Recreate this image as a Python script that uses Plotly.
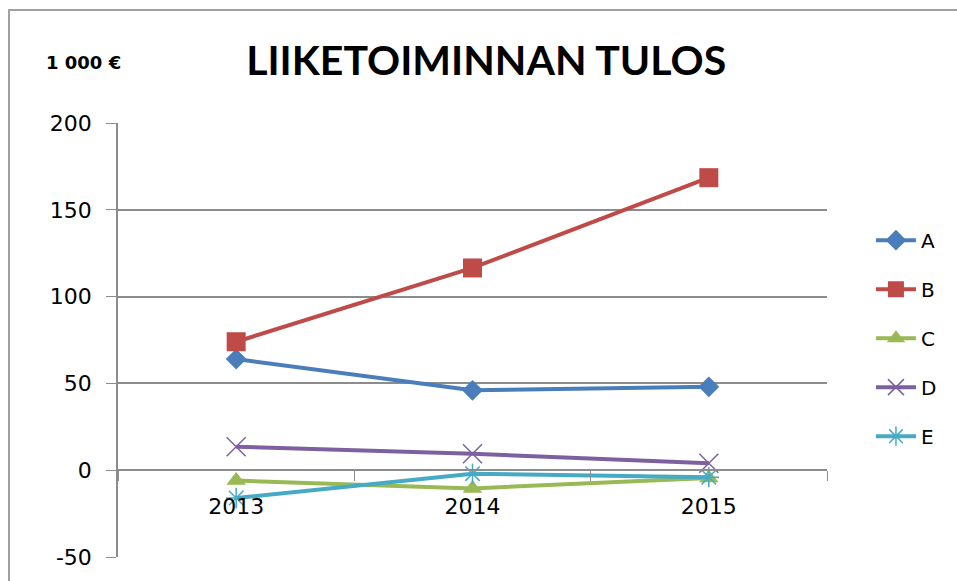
import plotly.graph_objects as go

years = ["2013", "2014", "2015"]
series_names = ["A", "B", "C", "D", "E"]
values_A = [64, 46, 48]
values_B = [74, 116.5, 168.5]
values_C = [-6, -10.5, -4.5]
values_D = [13.5, 9.5, 4]
values_E = [-16, -2, -4]
y_ticks = [-50, 0, 50, 100, 150, 200]
y_tick_labels = ["-50", "0", "50", "100", "150", "200"]

colors = ["#4A7EBB", "#BE4B48", "#98B954", "#7D60A0", "#46AAC5"]
symbols = ["diamond", "square", "triangle-up", "x-thin", "asterisk"]
sizes = [16, 19, 17, 19, 17]

all_values = [values_A, values_B, values_C, values_D, values_E]

fig = go.Figure()
for name, vals, col, sym, sz in zip(series_names, all_values, colors, symbols, sizes):
    marker = dict(symbol=sym, size=sz, color=col)
    if sym in ("x-thin", "asterisk"):
        marker["line"] = dict(color=col, width=1.5)
    fig.add_trace(go.Scatter(
        x=years, y=vals, name=name, mode="lines+markers",
        line=dict(color=col, width=4), marker=marker,
        legendgroup=name,
    ))

tick_font = dict(family="DejaVu Sans", size=22, color="#000000")
grid_col = "#8C8C8C"

fig.update_layout(
    width=957, height=581,
    margin=dict(l=118, r=130, t=123, b=24),
    paper_bgcolor="white", plot_bgcolor="white",
    title=dict(text="<b>LIIKETOIMINNAN TULOS</b>", x=0.508, xanchor="center",
               y=1 - 61 / 581, yanchor="middle",
               font=dict(family="Lato, DejaVu Sans", size=41, color="#000000")),
    xaxis=dict(type="category", range=[-0.5, 2.5], anchor="free", position=0.2,
               showline=True, linecolor=grid_col, linewidth=1.5,
               ticks="outside", tickson="boundaries", ticklen=10, tickcolor=grid_col,
               ticklabelstandoff=17, showgrid=False, tickfont=tick_font,
               automargin=False),
    yaxis=dict(range=[-50, 200], tickvals=y_ticks, ticktext=y_tick_labels,
               showline=True, linecolor=grid_col,
               linewidth=1.5, ticks="outside", ticklen=10, tickcolor=grid_col,
               showgrid=True, gridcolor=grid_col, gridwidth=1.5, zeroline=False,
               ticklabelstandoff=10, tickfont=tick_font, automargin=False),
    legend=dict(x=1.062, xanchor="left", y=0.775, yanchor="top",
                font=dict(family="DejaVu Sans", size=20, color="#000000"),
                tracegroupgap=20, itemwidth=40, bgcolor="rgba(0,0,0,0)"),
    showlegend=True,
    annotations=[dict(text="<b>1 000 €</b>", xref="paper", yref="paper",
                      x=(44 - 118) / 709, xanchor="left",
                      y=1 + (123 - 62) / 434, yanchor="middle", showarrow=False,
                      font=dict(family="DejaVu Sans", size=18, color="#000000"))],
    shapes=[dict(type="rect", xref="paper", yref="paper",
                 x0=-109 / 709, x1=1.5, y0=-0.5, y1=1 + 113 / 434,
                 line=dict(color="#A0A0A0", width=2), fillcolor="rgba(0,0,0,0)",
                 layer="below")],
)

fig.write_html("out.html", config={"displayModeBar": False},
               post_script="document.body.style.margin='0';")
